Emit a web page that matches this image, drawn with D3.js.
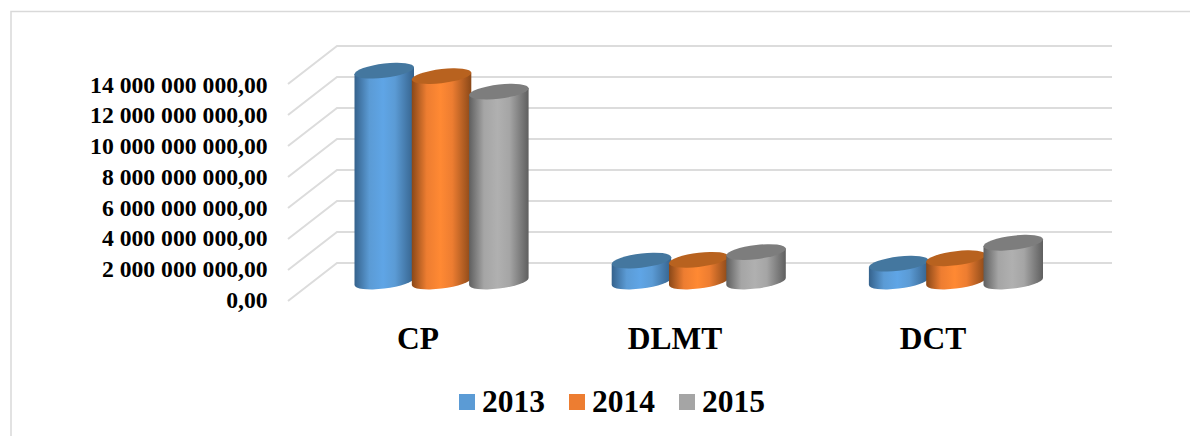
<!DOCTYPE html>
<html><head><meta charset="utf-8">
<script src="https://cdn.jsdelivr.net/npm/d3@7"></script>
<style>html,body{margin:0;padding:0;background:#fff}svg{display:block}text{font-family:"Liberation Serif",serif;font-weight:bold;fill:#000}</style>
</head><body><svg id="c" width="1190" height="436"></svg>
<script>
const categories = ["CP","DLMT","DCT"];
const seriesNames = ["2013","2014","2015"];
const values2013 = [13600000000,1350000000,1150000000];
const values2014 = [13250000000,1400000000,1500000000];
const values2015 = [12250000000,1900000000,2500000000];
const tickValues = [0,2e9,4e9,6e9,8e9,10e9,12e9,14e9];
const tickLabels = ["0,00","2 000 000 000,00","4 000 000 000,00","6 000 000 000,00","8 000 000 000,00","10 000 000 000,00","12 000 000 000,00","14 000 000 000,00"];
const mainColors = ["#5b9bd5","#ed7d31","#a5a5a5"];
const edgeColors = ["#35628c","#8a4818","#5f5f5f"];
const midColors = ["#5fa5e6","#ff8933","#b0b0b0"];
const topColors = ["#44779f","#b8621f","#7d7d7d"];
const allValues = [values2013,values2014,values2015];

const svg = d3.select("#c");
const depth = {x:49,y:-38};
const y = d3.scaleLinear().domain([0,14e9]).range([301,84]);
const yLabel = d3.scaleLinear().domain([0,14e9]).range([307.7,92.7]);
const barStep = 57.3, barW = 59.5, skew = -6.6;
const groupLeft = d3.scalePoint().domain(categories).range([354.5,868.9]);

svg.append("path").attr("d","M11,436V11.5H1190").attr("fill","none").attr("stroke","#d9d9d9").attr("stroke-width",1.5);

const grid = svg.append("g").attr("stroke","#dcdcdc").attr("stroke-width",2).attr("fill","none");
tickValues.forEach(v=>{
  const yy=y(v);
  grid.append("path").attr("d",`M288,${yy}L${288+depth.x},${yy+depth.y}H1112`);
});

svg.append("g").selectAll("text").data(tickValues).join("text")
  .attr("x",267.7).attr("y",d=>yLabel(d)).attr("text-anchor","end")
  .attr("font-size",23.7).text((d,i)=>tickLabels[i]);

const defs = svg.append("defs");
mainColors.forEach((c,i)=>{
  const g=defs.append("linearGradient").attr("id","g"+i).attr("x1",0).attr("x2",1).attr("y1",0).attr("y2",0);
  [[0,edgeColors[i]],[0.25,c],[0.48,midColors[i]],[0.68,c],[1,edgeColors[i]]].forEach(s=>g.append("stop").attr("offset",s[0]).attr("stop-color",s[1]));
});

const base = y(0)-19.5;
const rx = barW/2, ry = 7.1;
categories.forEach(cat=>{
  const ci = categories.indexOf(cat);
  seriesNames.forEach((s,si)=>{
    const v = allValues[si][ci];
    const cx = groupLeft(cat)+si*barStep+rx;
    const yTop = y(v)-19.5;
    const g = svg.append("g").attr("transform",`translate(${cx},0) skewY(${skew})`);
    g.append("path")
      .attr("d",`M${-rx},${yTop}L${-rx},${base}A${rx},${ry} 0 0 0 ${rx},${base}L${rx},${yTop}Z`)
      .attr("fill",`url(#g${si})`);
    g.append("ellipse").attr("cx",0).attr("cy",yTop).attr("rx",rx).attr("ry",ry).attr("fill",topColors[si]);
  });
});

const catX = [418,675,933];
svg.append("g").selectAll("text").data(categories).join("text")
  .attr("x",(d,i)=>catX[i]).attr("y",349).attr("text-anchor","middle")
  .attr("font-size",31.5).text(d=>d);

const legX = [459,569,679];
const leg = svg.append("g").selectAll("g").data(seriesNames).join("g");
leg.append("rect").attr("x",(d,i)=>legX[i]).attr("y",394).attr("width",16).attr("height",16).attr("fill",(d,i)=>mainColors[i]);
leg.append("text").attr("x",(d,i)=>legX[i]+23).attr("y",412).attr("font-size",31.5).text(d=>d);
</script></body></html>
